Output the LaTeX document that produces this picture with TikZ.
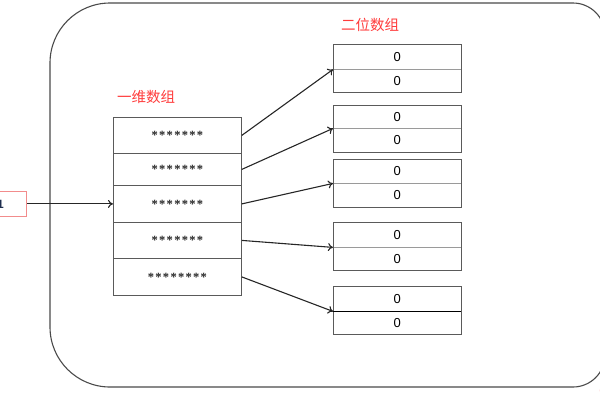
\documentclass[tikz,border=0pt]{standalone}
\usepackage{fontspec}
\setmainfont{Liberation Sans}
\newfontfamily\cjk{Noto Sans CJK SC}
\newfontfamily\starfont{Liberation Serif}
\usetikzlibrary{arrows.meta}
\definecolor{frame}{HTML}{4A4A4A}
\definecolor{boxline}{HTML}{5A5A5A}
\definecolor{midline}{HTML}{9A9A9A}
\definecolor{lblred}{HTML}{FF3B3B}
\definecolor{pinkline}{HTML}{F28C8C}
\definecolor{navy}{HTML}{1F2F4F}
\tikzset{
 cell/.style={draw=boxline, line width=0.8pt, minimum width=128pt, anchor=north west, inner sep=0pt, text=black!85, font=\starfont\bfseries\fontsize{12.5}{12}\selectfont},
 zcell/.style={minimum width=128pt, anchor=north west, inner sep=0pt, font=\fontsize{13}{13}\selectfont},
 grp/.style={draw=boxline, line width=0.8pt},
 mid/.style={draw=midline, line width=0.8pt},
 ptr/.style={-{To[length=5pt,width=8pt]}, line width=1.1pt, draw=black!85},
 lbl/.style={text=lblred, font=\cjk\fontsize{14.5}{15}\selectfont, inner sep=0pt}
}
\newcommand\sk{\kern1.3pt}
\begin{document}
\begin{tikzpicture}[x=1pt,y=-1pt]
\clip (0,0) rectangle (600,400);
% outer frame
\draw[draw=frame, line width=1.1pt, rounded corners=60pt] (50,200) -- (50,3) -- (330,3) [rounded corners=32pt] -- (605,3) -- (605,387) -- (330,387) [rounded corners=60pt] -- (50,387) -- cycle;
% labels
\node[lbl] (t1) at (146,97) {一维数组};
\node[lbl] (t2) at (370,25) {二位数组};
% one-dimensional array
\node[cell, minimum height=36pt] (L1) at (113,117) {*\sk*\sk*\sk*\sk*\sk*\sk*};
\node[cell, minimum height=32pt] (L2) at (113,153) {*\sk*\sk*\sk*\sk*\sk*\sk*};
\node[cell, minimum height=37pt] (L3) at (113,185) {*\sk*\sk*\sk*\sk*\sk*\sk*};
\node[cell, minimum height=36pt] (L4) at (113,222) {*\sk*\sk*\sk*\sk*\sk*\sk*};
\node[cell, minimum height=37pt] (L5) at (113,258) {*\sk*\sk*\sk*\sk*\sk*\sk*\sk*};
% two-dimensional rows
\foreach \i/\t/\m/\b in {1/44/69/92, 2/105/128/152, 3/159/183/207, 4/222/247/270, 5/286/311/334} {
  \node[zcell, minimum height={(\m-\t)*1pt}] (a\i) at (333,\t) {0};
  \node[zcell, minimum height={(\b-\m)*1pt}] (b\i) at (333,\m) {0};
  \draw[mid] (a\i.south west) -- (a\i.south east);
  \draw[grp] (a\i.north west) rectangle (b\i.south east);
}
\draw[line width=1pt, draw=black] (a5.south west) -- (a5.south east);
% pointers
\draw[ptr] (L1.east) -- (a1.south west);
\draw[ptr] (L2.east) -- (a2.south west);
\draw[ptr] (L3.east) -- (a3.south west);
\draw[ptr] (L4.east) -- (a4.south west);
\draw[ptr] (L5.east) -- (a5.south west);
% input box
\node[draw=pinkline, line width=0.8pt, minimum width=44pt, minimum height=25pt, anchor=north east, inner sep=0pt] (in) at (27,191) {};
\node[text=navy, font=\bfseries\fontsize{12}{12}\selectfont, inner sep=0pt] (inlbl) at (0.5,204) {1};
\draw[ptr] (in.east) -- (L3.west);
\node[text=lblred, font=\fontsize{10}{10}\selectfont, inner sep=0pt] (frag) at (601,391) {(};
\end{tikzpicture}
\end{document}
